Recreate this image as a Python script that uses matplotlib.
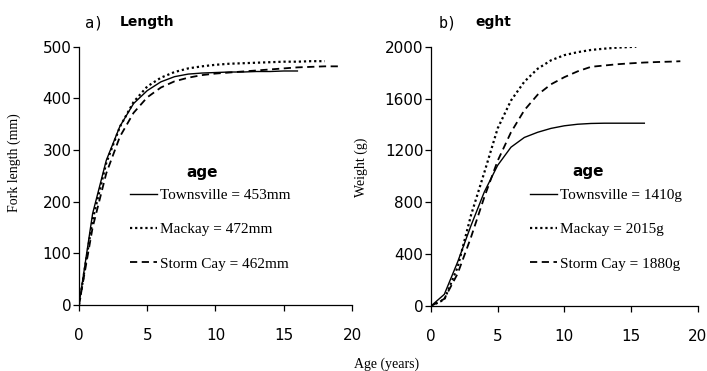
import matplotlib
matplotlib.use("Agg")
import matplotlib.pyplot as plt

# ages (years) and fitted growth
age_len_town = [0, 1, 2, 3, 4, 5, 6, 7, 8, 9, 10, 11, 12, 13, 14, 15, 16]
len_town = [0, 177, 280, 346, 390, 415, 432, 442, 447, 449, 450, 451, 451, 452, 452, 453, 453]
age_len_mack = [0, 1, 2, 3, 4, 5, 6, 7, 8, 9, 10, 11, 12, 13, 14, 15, 16, 17, 18]
len_mack = [0, 165, 275, 345, 393, 423, 440, 451, 458, 462, 465, 467, 468, 469, 470, 471, 471, 472, 472]
age_len_storm = [0, 1, 2, 3, 4, 5, 6, 7, 8, 9, 10, 11, 12, 13, 14, 15, 16, 17, 18, 19]
len_storm = [0, 150, 255, 326, 372, 402, 421, 433, 440, 445, 448, 450, 452, 454, 456, 458, 460, 461, 462, 462]

age_wt_town = [0, 1, 2, 3, 4, 5, 6, 7, 8, 9, 10, 11, 12, 13, 14, 15, 16]
wt_town = [0, 90, 340, 620, 880, 1085, 1225, 1300, 1340, 1370, 1390, 1402, 1408, 1410, 1410, 1410, 1410]
age_wt_mack = [0, 1, 2, 3, 4, 5, 6, 7, 8, 9, 10, 11, 12, 13, 14, 15, 15.4]
wt_mack = [0, 50, 300, 700, 1030, 1370, 1585, 1730, 1830, 1895, 1935, 1958, 1975, 1985, 1993, 1998, 2000]
age_wt_storm = [0, 1, 2, 3, 4, 5, 6, 7, 8, 9, 10, 11, 12, 13, 14, 15, 16, 17, 18, 18.7]
wt_storm = [0, 55, 250, 530, 840, 1120, 1340, 1510, 1630, 1710, 1765, 1810, 1845, 1855, 1865, 1872, 1878, 1882, 1885, 1888]

len_labels = ["Townsville = 453mm", "Mackay = 472mm", "Storm Cay = 462mm"]
wt_labels = ["Townsville = 1410g", "Mackay = 2015g", "Storm Cay = 1880g"]

serif = "Liberation Serif"

fig = plt.figure(figsize=(7.07, 3.71), dpi=100)
ax1 = fig.add_axes([0.1117, 0.1779, 0.3862, 0.6962])
ax2 = fig.add_axes([0.6096, 0.1752, 0.3772, 0.6989])


def style_axes(ax, ymax, yticks):
    ax.set_xlim(0, 20)
    ax.set_ylim(0, ymax)
    ax.set_xticks([0, 5, 10, 15, 20])
    ax.set_yticks(yticks)
    for s in ["top", "right"]:
        ax.spines[s].set_visible(False)
    for s in ["left", "bottom"]:
        ax.spines[s].set_linewidth(0.9)
    ax.tick_params(axis="both", direction="out", length=4.5, width=0.9, labelsize=11)
    ax.tick_params(axis="x", pad=12)
    ax.tick_params(axis="y", pad=1)


def draw(ax, a1, y1, a2, y2, a3, y3, labels):
    l1, = ax.plot(a1, y1, color="black", lw=1.0, label=labels[0])
    l2, = ax.plot(a2, y2, color="black", lw=1.6, linestyle=(0, (1, 1.3)), label=labels[1])
    l3, = ax.plot(a3, y3, color="black", lw=1.3, linestyle=(0, (4, 2.5)), label=labels[2])
    return [l1, l2, l3]


h1 = draw(ax1, age_len_town, len_town, age_len_mack, len_mack, age_len_storm, len_storm, len_labels)
style_axes(ax1, 500, [0, 100, 200, 300, 400, 500])
ax1.set_ylabel("Fork length (mm)", fontfamily=serif, fontsize=10)
ax1.yaxis.set_label_coords(-0.212, 0.55)

h2 = draw(ax2, age_wt_town, wt_town, age_wt_mack, wt_mack, age_wt_storm, wt_storm, wt_labels)
style_axes(ax2, 2000, [0, 400, 800, 1200, 1600, 2000])
ax2.set_ylabel("Weight (g)", fontfamily=serif, fontsize=10)
ax2.yaxis.set_label_coords(-0.236, 0.533)

# legends (title "age" placed as separate text)
for ax, h, anchor, title_xy in [(ax1, h1, (0.165, 0.475), (0.45, 0.514)),
                                (ax2, h2, (0.349, 0.478), (0.589, 0.517))]:
    ax.legend(handles=h, loc="upper left", bbox_to_anchor=anchor, frameon=False,
              handlelength=1.75, handletextpad=0.2, labelspacing=1.35,
              prop={"family": serif, "size": 11}, borderaxespad=0)
    ax.text(title_xy[0], title_xy[1], "age", transform=ax.transAxes, fontweight="bold",
            fontsize=11, ha="center", va="center")

# panel titles
fig.text(0.120, 0.938, "a)", fontfamily="DejaVu Sans Mono", fontsize=11, va="center")
fig.text(0.170, 0.940, "Length", fontweight="bold", fontsize=10, va="center")
fig.text(0.620, 0.938, "b)", fontfamily="DejaVu Sans Mono", fontsize=11, va="center")
fig.text(0.672, 0.940, "eght", fontweight="bold", fontsize=10, va="center")

fig.text(0.547, 0.018, "Age (years)", fontfamily=serif, fontsize=10, ha="center", va="center")

fig.savefig("out.png", dpi=100)
